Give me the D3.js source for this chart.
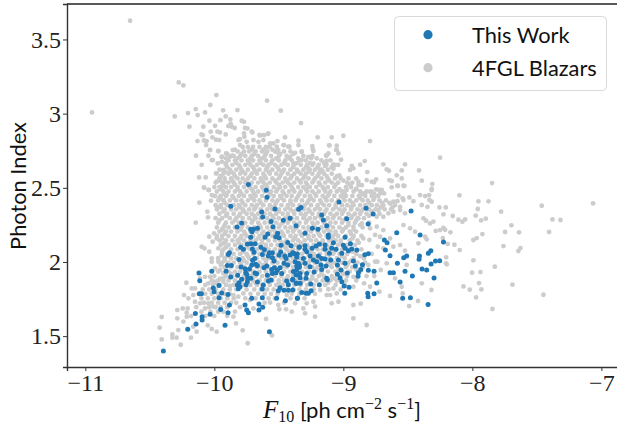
<!DOCTYPE html>
<html><head><meta charset="utf-8">
<script src="https://cdn.jsdelivr.net/npm/d3@7"></script>
<style>html,body{margin:0;padding:0;background:#fff;overflow:hidden}svg{display:block}</style>
</head><body><svg id="c" width="617" height="426"></svg>
<script>
const xTickValues=[-11,-10,-9,-8,-7];
const yTickValues=[1.5,2,2.5,3,3.5];
const legendLabels=["This Work","4FGL Blazars"];
const thisWork=[[-10.395,1.40],[-10.206,1.546],[-10.142,1.582],[-10.095,1.631],[-10.095,1.609],[-10.147,1.652],[-10.033,1.647],[-9.917,1.573],[-9.573,1.530],[-10.119,1.926],[-10.113,1.874],[-10.020,1.937],[-10.116,1.786],[-10.10,1.786],[-10.008,1.824],[-10.002,1.80],[-9.964,1.842],[-9.943,1.791],[-9.964,1.759],[-9.894,1.78],[-9.951,1.68],[-9.883,1.71],[-9.894,1.658],[-9.873,2.375],[-9.736,2.523],[-9.597,2.483],[-9.592,2.436],[-9.53,2.357],[-9.633,2.337],[-9.625,2.303],[-9.346,2.355],[-9.413,2.294],[-9.465,2.281],[-9.56,2.272],[-9.545,2.238],[-9.367,2.245],[-9.788,2.263],[-9.824,2.236],[-9.718,2.22],[-9.697,2.22],[-9.666,2.227],[-9.708,2.204],[-9.718,2.166],[-9.586,2.189],[-9.607,2.166],[-9.509,2.193],[-9.524,2.17],[-9.498,2.164],[-9.744,2.121],[-9.716,2.123],[-9.684,2.123],[-9.796,2.1],[-9.775,2.085],[-9.883,2.063],[-9.891,2.05],[-9.705,2.087],[-9.692,2.065],[-9.687,2.024],[-9.703,2.011],[-9.638,2.1],[-9.612,2.083],[-9.628,2.05],[-9.573,2.063],[-9.55,2.063],[-9.581,2.04],[-9.55,2.029],[-9.537,2.006],[-9.486,2.067],[-9.498,2.045],[-9.483,2.112],[-9.431,2.132],[-9.405,2.11],[-9.392,2.063],[-9.341,2.101],[-9.374,2.054],[-9.454,2.04],[-9.444,2.024],[-9.46,1.991],[-9.809,2.016],[-9.899,1.977],[-9.868,1.977],[-9.909,1.937],[-9.873,1.899],[-9.793,1.966],[-9.762,1.955],[-9.757,1.928],[-9.728,1.953],[-9.71,1.98],[-9.679,1.984],[-9.666,1.975],[-9.819,1.91],[-9.788,1.883],[-9.749,1.917],[-9.741,1.892],[-9.716,1.89],[-9.672,1.921],[-9.684,1.926],[-9.594,1.973],[-9.615,1.961],[-9.555,1.95],[-9.535,1.961],[-9.511,1.946],[-9.522,1.928],[-9.55,1.923],[-9.491,1.961],[-9.589,1.91],[-9.56,1.878],[-9.581,1.872],[-9.666,1.865],[-9.62,1.845],[-9.628,1.818],[-9.744,1.867],[-9.754,1.847],[-9.809,1.86],[-9.821,1.845],[-9.814,1.82],[-9.801,1.833],[-9.439,1.872],[-9.426,1.847],[-9.392,1.883],[-9.367,1.914],[-9.361,1.856],[-9.392,1.811],[-9.426,1.809],[-9.46,1.809],[-9.491,1.827],[-9.504,1.806],[-9.517,1.755],[-9.449,1.739],[-9.356,1.755],[-9.628,1.759],[-9.71,1.755],[-9.762,1.71],[-9.749,1.676],[-9.736,1.658],[-9.654,1.717],[-9.625,1.694],[-9.654,1.676],[-9.374,2.002],[-9.349,1.991],[-9.361,1.973],[-9.341,1.964],[-9.387,1.935],[-9.361,1.912],[-9.431,1.98],[-9.478,1.923],
[-9.033,2.404],[-8.824,2.362],[-8.769,2.323],[-8.475,2.344],[-8.974,2.292],[-8.808,2.256],[-9.328,2.368],[-9.168,2.317],[-9.155,2.283],[-9.129,2.245],[-9.24,2.227],[-9.196,2.22],[-9.297,2.193],[-9.116,2.182],[-9.116,2.166],[-8.987,2.166],[-8.586,2.197],[-8.405,2.182],[-8.224,2.135],[-8.682,2.148],[-8.661,2.13],[-8.674,2.081],[-8.638,2.042],[-8.581,1.991],[-8.509,2.04],[-8.532,2.029],[-8.41,2.04],[-8.413,2.018],[-8.322,2.076],[-8.341,2.058],[-8.32,1.986],[-8.286,2.006],[-8.253,2.009],[-8.39,1.953],[-8.354,1.946],[-8.638,1.928],[-8.612,1.928],[-8.522,1.937],[-8.465,1.905],[-8.297,1.892],[-8.56,1.865],[-8.54,1.755],[-8.48,1.759],[-8.343,1.714],[-8.762,1.786],[-8.811,1.789],[-8.808,1.766],[-8.741,1.858],[-8.762,1.937],[-8.806,1.944],[-8.852,1.982],[-8.907,1.973],[-8.922,2.007],[-8.865,1.95],[-8.883,1.928],[-8.886,1.903],[-8.806,2.056],[-8.834,2.049],[-8.896,2.081],[-8.935,2.087],[-8.961,2.076],[-8.945,2.123],[-9,2.112],[-8.987,2.092],[-9.012,2.058],[-9.056,2.085],[-9.077,2.13],[-9.09,2.092],[-9.142,2.114],[-9.142,2.085],[-9.186,2.121],[-9.211,2.108],[-9.242,2.092],[-9.297,2.11],[-9.343,2.099],[-9.297,2.085],[-9.284,2.069],[-9.387,2.058],[-9.356,2.054],[-9.413,2.047],[-9.108,2.058],[-9.098,2.013],[-9.142,2.02],[-9.193,2.04],[-9.168,2.024],[-9.258,2.04],[-9.232,2.013],[-9.206,2.002],[-9.038,2.013],[-9.046,1.98],[-8.987,1.991],[-9.018,1.946],[-8.969,1.926],[-9.046,1.917],[-9.025,1.892],[-9.012,1.867],[-8.994,1.838],[-8.956,1.829],[-8.989,1.789],[-9.173,1.98],[-9.134,1.973],[-9.168,1.95],[-9.258,1.968],[-9.297,1.991],[-9.31,2.024],[-9.361,2.031],[-9.341,1.98],[-9.361,1.946],[-9.335,1.923],[-9.284,1.923],[-9.227,1.932],[-9.129,1.89],[-9.124,1.88],[-9.335,1.894],[-9.289,1.89],[-9.392,1.878],[-9.366,1.856],[-9.335,1.856],[-9.253,1.851],[-9.186,1.847],[-9.322,1.795],[-9.289,1.789],[-9.271,1.789],[-9.25,1.806],[-9.356,1.755]];
const blazars=[[-10.653,3.626],[-10.948,3.008],[-10.276,3.21],[-10.24,3.19],[-9.984,3.125],[-9.591,3.087],[-9.485,3.02],[-9.328,2.936],[-10.307,2.981],[-10.204,3.004],[-10.129,2.99],[-10.144,3.031],[-10.072,3.008],[-10.031,3.058],[-9.932,3.022],[-9.821,3.024],[-10.193,2.912],[-10.085,2.912],[-10.038,2.952],[-9.994,2.918],[-9.953,2.956],[-9.912,2.981],[-9.876,2.961],[-9.873,2.93],[-9.891,2.916],[-9.865,2.912],[-9.842,2.903],[-9.788,2.952],[-9.77,2.945],[-10.028,2.878],[-9.976,2.878],[-9.956,2.873],[-9.912,2.86],[-10.1,2.86],[-10.09,2.855],[-9.762,2.903],[-9.744,2.9],[-9.77,2.867],[-9.705,2.873],[-9.767,2.844],[-9.646,2.853],[-9.615,2.855],[-9.584,2.864],[-10.015,2.84],[-9.987,2.824],[-9.961,2.822],[-10.131,2.815],[-10.08,2.819],[-10.059,2.815],[-10.064,2.788],[-9.803,2.828],[-10.033,2.754],[-9.969,2.747],[-10.142,2.716],[-10.098,2.655],[-10.046,2.716],[-10.012,2.687],[-9.943,2.709],[-9.865,2.716],[-9.909,2.732],[-9.857,2.754],[-9.974,2.664],[-9.912,2.664],[-10.118,2.57],[-10.067,2.57],[-9.987,2.597],[-10.08,2.5],[-9.961,2.563],[-9.917,2.608],[-9.452,2.84],[-9.511,2.815],[-9.199,2.84],[-9.09,2.84],[-9.348,2.817],[-9.348,2.788],[-9.418,2.777],[-9.46,2.788],[-9.24,2.781],[-9.237,2.761],[-9.108,2.786],[-9.051,2.784],[-9.504,2.754],[-9.542,2.799],[-9.374,2.736],[-9.323,2.743],[-9.271,2.709],[-9.206,2.698],[-9.129,2.72],[-9.051,2.754],[-9.413,2.709],[-9.452,2.664],[-9.323,2.687],[-9.232,2.664],[-9.129,2.682],[-9.064,2.653],[-9.18,2.62],[-9.271,2.631],[-9.387,2.664],
[-9.0,2.851],[-8.793,2.815],[-8.25,2.703],[-9.11,2.786],[-9.056,2.755],[-9.038,2.732],[-9.116,2.732],[-9.134,2.716],[-9.018,2.689],[-9.077,2.658],[-9.142,2.647],[-8.935,2.647],[-8.87,2.656],[-8.834,2.68],[-8.948,2.62],[-8.922,2.631],[-9.077,2.629],[-8.814,2.606],[-8.69,2.658],[-8.664,2.624],[-8.646,2.615],[-8.522,2.658],[-8.547,2.617],[-8.413,2.617],[-8.586,2.584],[-8.547,2.563],[-8.392,2.548],[-8.31,2.525],[-8.643,2.552],[-8.625,2.546],[-8.746,2.557],[-8.762,2.537],[-8.819,2.552],[-8.883,2.541],[-8.857,2.518],[-8.901,2.492],[-9.031,2.584],[-9.064,2.563],[-8.974,2.485],[-9,2.474],[-8.625,2.503],[-8.578,2.512],[-8.527,2.512],[-8.315,2.492],[-8.684,2.462],[-8.746,2.489],[-8.723,2.485],[-8.78,2.474],[-8.832,2.462],[-8.1,2.449],[-8.405,2.451],[-8.366,2.444],[-8.335,2.451],[-8.573,2.449],[-8.488,2.435],[-8.534,2.417],[-8.581,2.41],[-8.457,2.41],[-8.612,2.406],[-8.643,2.399],[-8.315,2.406],[-8.392,2.384],[-8.348,2.372],[-8.255,2.368],[-8.206,2.368],[-8.56,2.372],
[-7.847,2.532],[-7.953,2.409],[-7.875,2.409],[-7.958,2.357],[-7.462,2.379],[-7.064,2.395],[-7.777,2.339],[-8.224,2.321],[-8.152,2.31],[-7.974,2.312],[-8.108,2.285],[-8.077,2.271],[-8.056,2.287],[-7.932,2.28],[-7.896,2.292],[-7.379,2.287],[-7.317,2.283],[-7.697,2.247],[-8.224,2.229],[-8.211,2.217],[-8.17,2.2],[-8.25,2.215],[-7.746,2.202],[-7.638,2.2],[-7.405,2.202],[-7.922,2.188],[-7.966,2.161],[-7.992,2.148],[-8.229,2.161],[-8.191,2.121],[-8.139,2.116],[-8.098,2.08],[-7.759,2.107],[-7.627,2.094],[-7.643,2.074],[-8.203,2.031],[-7.992,2.011],[-8.198,1.984],[-7.826,1.968],[-8.002,1.928],[-7.937,1.932],[-7.948,1.858],[-7.93,1.815],[-8.069,1.835],[-8.02,1.813],[-7.689,1.847],[-7.449,1.779],[-7.971,1.761],[-7.844,1.683],
[-8.534,2.514],[-8.581,2.514],[-8.315,2.485],[-8.54,2.429],[-8.333,2.418],[-8.328,2.26],[-8.284,2.209],[-8.379,2.294],[-8.359,2.278],[-8.302,2.272],[-8.56,2.35],[-8.522,2.328],[-8.612,2.339],[-8.651,2.328],[-8.728,2.35],[-8.767,2.418],[-8.715,2.463],[-8.793,2.474],[-8.857,2.463],[-8.883,2.519],[-8.78,2.541],[-8.702,2.485],[-8.638,2.395],[-8.69,2.305],[-8.741,2.305],[-8.883,2.294],[-8.857,2.26],[-8.922,2.238],[-8.793,2.227],[-8.741,2.238],[-8.69,2.215],[-8.534,2.249],[-8.483,2.227],[-8.444,2.204],[-8.366,2.17],[-8.418,2.126],[-8.522,2.076],[-8.638,2.159],[-8.715,2.17],[-8.754,2.182],[-8.845,2.159],[-8.798,2.148],[-8.733,2.103],[-8.69,2.092],[-8.612,2.103],[-8.56,2.114],[-8.354,2.153],[-8.204,1.991],[-8.509,1.98],[-8.71,1.946],[-8.664,1.991],[-8.754,2.002],[-8.736,2.002],[-8.806,1.98],[-8.599,1.89],[-8.547,1.833],[-8.54,1.788],[-8.638,1.771],[-8.72,1.8],[-8.793,1.833],[-8.49,1.703],[-8.421,1.737],[-8.317,1.811],[-8.392,1.856],[-8.839,1.856],[-8.922,1.9],[-8.865,1.719],[-8.922,1.71],[-8.819,1.575],[-8.922,1.62],[-9.038,1.732],[-9.09,1.721],[-9.129,1.777],[-9.219,1.699],[-9.219,1.631],[-9.31,1.687],[-9.297,1.654],[-9.374,1.721],[-9.4,1.665],[-9.232,1.732],[-9.284,1.721],[-9.077,1.822],[-9.103,1.777],[-9.051,1.788],[-8.922,1.833],[-9.116,1.816],[-9.18,1.811],
[-10.408,1.629],[-10.424,1.557],[-10.408,1.478],[-10.325,1.512],[-10.325,1.49],[-10.292,1.49],[-10.261,1.442],[-10.181,1.49],[-10.287,1.62],[-10.279,1.541],[-10.287,1.676],[-10.245,1.687],[-10.207,1.687],[-10.24,1.598],[-10.214,1.631],[-10.214,1.658],[-10.137,1.53],[-10.163,1.564],[-10.051,1.573],[-10.02,1.548],[-9.982,1.53],[-9.852,1.631],[-9.832,1.586],[-9.78,1.539],[-9.741,1.452],[-9.553,1.505],[-9.599,1.616],[-9.496,1.681],[-9.444,1.681],[-10.217,1.86],[-10.15,1.822],[-10.175,1.822],[-10.235,1.777],[-10.201,1.755],[-10.163,1.777],[-10.15,1.732],[-10.111,1.721],[-10.072,1.687],[-10.046,1.721],[-10.008,1.699],[-10.111,1.89],[-10.072,1.9],[-10.046,1.856],[-10.033,1.9],[-9.995,1.867],[-9.93,1.867],[-9.878,1.838],[-9.852,1.777],[-9.814,1.766],[-9.775,1.788],[-9.723,1.743],[-9.697,1.687],[-9.568,1.726],[-9.504,1.71],[-9.439,1.777],[-9.387,1.811],[-10.144,2.265],[-10.116,2.4],[-10.08,2.503],[-10.041,2.485],[-10.026,2.413],[-10.054,2.339],[-10.049,2.301],[-10.039,2.17],[-10.013,2.137],[-10.098,2.103],[-10.077,2.092],[-10.039,2.069],[-10.02,2.024],[-10.02,2.002],[-9.969,2.002],[-9.943,2.047],[-10.002,2.193],[-9.982,2.159],[-9.969,2.092],[-9.93,2.126],[-9.956,1.946],[-9.995,1.957],[-9.93,1.923],[-9.956,1.887],
[-10.033,2.755],[-9.968,2.748],[-10.02,2.687],[-9.942,2.71],[-9.878,2.71],[-9.942,2.676],[-9.813,2.822],[-9.80,2.788],[-9.749,2.81],[-9.71,2.878],[-9.65,2.856],[-9.581,2.867],[-9.697,2.822],[-9.658,2.81],[-9.62,2.822],[-9.568,2.799],[-9.516,2.777],[-9.464,2.788],[-9.426,2.777],[-9.232,2.748],[-9.322,2.743],[-9.516,2.743],[-9.981,2.597],[-9.93,2.62],[-9.955,2.563],[-9.981,2.541],[-9.942,2.507],[-9.917,2.541],[-10.046,2.485],[-10.02,2.451],[-9.994,2.444],[-9.955,2.44],[-9.904,2.451],[-9.981,2.372],[-9.93,2.417]];
const blazarBands=[
[2.775,[-9.78,-9.74,-9.70,-9.65,-9.60,-9.57]],
[2.745,[-9.82,-9.77,-9.73,-9.68,-9.63,-9.59,-9.53,-9.46,-9.41]],
[2.715,[-9.85,-9.80,-9.76,-9.71,-9.66,-9.61,-9.56,-9.50,-9.44,-9.31,-9.24]],
[2.685,[-9.89,-9.84,-9.79,-9.74,-9.70,-9.65,-9.60,-9.55,-9.50,-9.45,-9.40,-9.34,-9.29,-9.17,-9.10]],
[2.655,[-9.91,-9.86,-9.81,-9.76,-9.72,-9.67,-9.62,-9.58,-9.53,-9.48,-9.43,-9.38,-9.33,-9.28,-9.24,-9.19,-9.13,-9.04]],
[2.622,[-9.96,-9.88,-9.83,-9.79,-9.74,-9.69,-9.65,-9.60,-9.55,-9.50,-9.46,-9.41,-9.36,-9.31,-9.26,-9.22,-9.17,-9.12]],
[2.595,[-9.93,-9.89,-9.85,-9.80,-9.76,-9.71,-9.67,-9.62,-9.57,-9.52,-9.48,-9.43,-9.38,-9.33,-9.29,-9.24,-9.19,-9.15,-9.09]],
[2.563,[-9.92,-9.87,-9.82,-9.78,-9.74,-9.69,-9.64,-9.60,-9.55,-9.50,-9.45,-9.41,-9.36,-9.31,-9.27,-9.22,-9.17,-9.12,-9.02,-8.96,-8.90]],
[2.535,[-9.99,-9.94,-9.89,-9.85,-9.80,-9.76,-9.71,-9.66,-9.62,-9.57,-9.52,-9.47,-9.43,-9.38,-9.33,-9.29,-9.24,-9.19,-9.14,-9.09,-9.04,-8.97,-8.93]],
[2.505,[-10.00,-9.96,-9.91,-9.87,-9.82,-9.77,-9.73,-9.68,-9.63,-9.59,-9.54,-9.49,-9.45,-9.40,-9.35,-9.31,-9.26,-9.21,-9.16,-9.12,-9.07,-8.98,-8.94]],
[2.475,[-9.98,-9.93,-9.89,-9.84,-9.80,-9.75,-9.70,-9.66,-9.61,-9.56,-9.52,-9.47,-9.42,-9.38,-9.33,-9.28,-9.24,-9.19,-9.14,-9.10,-9.05,-9.01,-8.92,-8.87,-8.82]],
[2.445,[-10.00,-9.95,-9.91,-9.86,-9.81,-9.77,-9.72,-9.68,-9.63,-9.58,-9.54,-9.49,-9.44,-9.40,-9.35,-9.30,-9.26,-9.21,-9.16,-9.12,-9.07,-9.02,-8.98,-8.93,-8.88,-8.83,-8.78,-8.73]],
[2.415,[-9.97,-9.93,-9.88,-9.83,-9.79,-9.74,-9.69,-9.65,-9.60,-9.55,-9.51,-9.46,-9.41,-9.37,-9.32,-9.27,-9.23,-9.18,-9.13,-9.09,-9.04,-8.99,-8.95,-8.90,-8.85,-8.81,-8.72,-8.67]],
[2.383,[-9.99,-9.95,-9.90,-9.85,-9.81,-9.76,-9.71,-9.67,-9.62,-9.57,-9.53,-9.48,-9.43,-9.39,-9.34,-9.30,-9.25,-9.20,-9.15,-9.11,-9.06,-9.01,-8.97,-8.92,-8.87,-8.83,-8.78,-8.74,-8.69,-8.60]],
[2.355,[-9.98,-9.92,-9.87,-9.83,-9.78,-9.73,-9.69,-9.64,-9.59,-9.55,-9.50,-9.45,-9.41,-9.36,-9.31,-9.27,-9.22,-9.18,-9.13,-9.08,-9.03,-8.99,-8.94,-8.89,-8.85,-8.80,-8.75,-8.68,-8.63]],
[2.325,[-9.96,-9.90,-9.85,-9.80,-9.75,-9.71,-9.66,-9.61,-9.57,-9.52,-9.47,-9.43,-9.38,-9.33,-9.29,-9.24,-9.19,-9.15,-9.10,-9.05,-9.01,-8.96,-8.91,-8.87,-8.82,-8.72]],
[2.295,[-9.99,-9.94,-9.88,-9.83,-9.78,-9.73,-9.68,-9.64,-9.59,-9.54,-9.50,-9.45,-9.40,-9.36,-9.31,-9.26,-9.22,-9.17,-9.12,-9.08,-9.03,-8.98,-8.94,-8.89,-8.84]],
[2.265,[-9.97,-9.91,-9.86,-9.81,-9.76,-9.71,-9.66,-9.61,-9.57,-9.52,-9.47,-9.43,-9.38,-9.34,-9.29,-9.24,-9.20,-9.15,-9.10,-9.06,-9.01,-8.96,-8.91,-8.80]],
[2.233,[-9.98,-9.93,-9.89,-9.84,-9.79,-9.74,-9.69,-9.64,-9.59,-9.55,-9.50,-9.45,-9.41,-9.36,-9.31,-9.27,-9.22,-9.17,-9.13,-9.08,-9.03,-8.98,-8.85]],
[2.205,[-9.96,-9.91,-9.87,-9.82,-9.77,-9.72,-9.67,-9.62,-9.57,-9.53,-9.48,-9.43,-9.39,-9.34,-9.29,-9.25,-9.20,-9.15,-9.10,-9.06,-9.01,-8.95,-8.90]],
[2.175,[-9.98,-9.94,-9.89,-9.84,-9.79,-9.75,-9.70,-9.65,-9.60,-9.55,-9.51,-9.46,-9.41,-9.37,-9.32,-9.27,-9.23,-9.18,-9.13,-9.08,-9.04,-8.98,-8.92,-8.86]],
[2.145,[-9.96,-9.91,-9.86,-9.82,-9.77,-9.72,-9.68,-9.63,-9.58,-9.53,-9.49,-9.44,-9.39,-9.35,-9.30,-9.25,-9.21,-9.16,-9.11,-9.06,-9.02,-8.95,-8.89]],
[2.115,[-9.95,-9.89,-9.84,-9.79,-9.75,-9.70,-9.65,-9.60,-9.56,-9.51,-9.46,-9.42,-9.37,-9.32,-9.28,-9.23,-9.18,-9.13,-9.09,-9.04,-8.97,-8.91]],
[2.085,[-9.93,-9.87,-9.82,-9.77,-9.72,-9.67,-9.63,-9.58,-9.53,-9.49,-9.44,-9.39,-9.35,-9.30,-9.25,-9.20,-9.16,-9.11,-9.06,-9.01,-8.94,-8.86]],
[2.055,[-9.90,-9.85,-9.80,-9.75,-9.70,-9.65,-9.60,-9.55,-9.51,-9.46,-9.41,-9.37,-9.32,-9.27,-9.23,-9.18,-9.13,-9.08,-9.03,-8.97,-8.90,-8.78]],
[2.025,[-9.97,-9.92,-9.87,-9.83,-9.78,-9.73,-9.67,-9.62,-9.58,-9.53,-9.48,-9.44,-9.39,-9.34,-9.30,-9.25,-9.20,-9.15,-9.11,-9.05,-8.99,-8.92,-8.84]],
[1.995,[-9.94,-9.89,-9.85,-9.80,-9.75,-9.70,-9.65,-9.60,-9.55,-9.51,-9.46,-9.41,-9.37,-9.32,-9.27,-9.22,-9.18,-9.12,-9.07,-9.01,-8.96,-8.89,-8.83]],
[1.965,[-9.92,-9.87,-9.82,-9.77,-9.72,-9.67,-9.63,-9.58,-9.53,-9.48,-9.44,-9.39,-9.34,-9.29,-9.24,-9.20,-9.15,-9.09,-9.04,-8.98,-8.93,-8.85]],
[1.935,[-9.97,-9.89,-9.84,-9.80,-9.75,-9.70,-9.65,-9.60,-9.56,-9.51,-9.46,-9.41,-9.36,-9.32,-9.27,-9.22,-9.17,-9.12,-9.06,-9.01,-8.95,-8.87]],
[1.905,[-10.00,-9.91,-9.86,-9.82,-9.77,-9.72,-9.68,-9.63,-9.58,-9.53,-9.48,-9.43,-9.39,-9.34,-9.29,-9.24,-9.19,-9.15,-9.09,-9.03,-8.97,-8.82,-8.76]],
[1.875,[-10.02,-9.97,-9.89,-9.84,-9.79,-9.74,-9.70,-9.65,-9.60,-9.55,-9.50,-9.46,-9.41,-9.36,-9.31,-9.26,-9.21,-9.16,-9.10,-9.05,-8.98,-8.90]],
[1.845,[-10.07,-10.01,-9.96,-9.91,-9.85,-9.77,-9.72,-9.67,-9.63,-9.57,-9.52,-9.47,-9.43,-9.38,-9.33,-9.28,-9.23,-9.14,-9.06,-8.99]],
[1.815,[-10.09,-10.04,-9.99,-9.93,-9.88,-9.83,-9.75,-9.69,-9.64,-9.59,-9.54,-9.49,-9.44,-9.39,-9.34,-9.29,-9.23,-9.02]],
[1.785,[-10.12,-10.07,-10.02,-9.97,-9.92,-9.88,-9.72,-9.66,-9.61,-9.56,-9.51,-9.40,-9.34,-9.22]],
[1.755,[-10.10,-10.05,-10.00,-9.95,-9.90,-9.85,-9.76,-9.68,-9.58,-9.53,-9.41,-9.30]],
[1.725,[-10.08,-10.02,-9.97,-9.92,-9.87,-9.83,-9.61,-9.46]],
[1.695,[-10.14,-10.04,-9.99,-9.95,-9.90,-9.80]],
[1.665,[-10.10,-10.03,-9.97,-9.93,-9.84]],
[1.635,[-10.18,-10.07,-10.00,-9.90]]
];
const blazarBandsMid=[
[2.757,[-9.84,-9.71,-9.62,-9.55]],
[2.728,[-9.90,-9.79,-9.69,-9.60,-9.49,-9.39]],
[2.699,[-9.91,-9.82,-9.72,-9.63,-9.52,-9.42,-9.35,-9.25]],
[2.667,[-9.83,-9.73,-9.64,-9.56,-9.46,-9.36,-9.26,-9.15]],
[2.639,[-9.90,-9.80,-9.70,-9.59,-9.51,-9.39,-9.29,-9.20,-9.09]],
[2.609,[-9.87,-9.78,-9.68,-9.58,-9.47,-9.35,-9.27,-9.16]],
[2.579,[-9.95,-9.84,-9.72,-9.61,-9.49,-9.40,-9.30,-9.20,-9.13,-9.05]],
[2.549,[-9.96,-9.86,-9.75,-9.63,-9.53,-9.44,-9.34,-9.23,-9.11,-9.00]],
[2.521,[-9.93,-9.84,-9.72,-9.60,-9.50,-9.41,-9.28,-9.18,-9.06,-8.95]],
[2.491,[-9.95,-9.82,-9.71,-9.62,-9.51,-9.39,-9.29,-9.15,-9.03,-8.90]],
[2.459,[-9.92,-9.79,-9.69,-9.57,-9.46,-9.34,-9.22,-9.11,-8.99,-8.85,-8.76]],
[2.431,[-9.96,-9.85,-9.71,-9.59,-9.48,-9.36,-9.25,-9.14,-9.00,-8.87,-8.76]],
[2.399,[-9.92,-9.78,-9.64,-9.52,-9.41,-9.28,-9.17,-9.05,-8.93,-8.80,-8.70]],
[2.369,[-9.95,-9.80,-9.68,-9.56,-9.43,-9.31,-9.20,-9.06,-8.94,-8.82,-8.71,-8.62]],
[2.341,[-9.93,-9.77,-9.63,-9.50,-9.39,-9.26,-9.14,-9.00,-8.86,-8.78]],
[2.311,[-9.91,-9.81,-9.69,-9.55,-9.43,-9.30,-9.19,-9.07,-8.93,-8.80]],
[2.281,[-9.96,-9.84,-9.70,-9.56,-9.42,-9.28,-9.14,-9.00,-8.90]],
[2.249,[-9.92,-9.78,-9.65,-9.49,-9.35,-9.23,-9.11,-8.96,-8.87]],
[2.219,[-9.94,-9.80,-9.66,-9.54,-9.38,-9.26,-9.12,-9.00,-8.92]],
[2.189,[-9.92,-9.76,-9.63,-9.47,-9.33,-9.19,-9.06,-8.94]],
[2.159,[-9.94,-9.80,-9.66,-9.52,-9.38,-9.27,-9.09,-8.93]],
[2.129,[-9.92,-9.81,-9.63,-9.46,-9.33,-9.16,-9.02,-8.88]],
[2.099,[-9.91,-9.74,-9.60,-9.45,-9.27,-9.12,-8.98]],
[2.069,[-9.94,-9.78,-9.62,-9.42,-9.25,-9.07,-8.93]],
[2.039,[-9.90,-9.74,-9.56,-9.39,-9.22,-9.01,-8.87]],
[2.009,[-9.92,-9.77,-9.60,-9.43,-9.26,-9.09,-8.94]],
[1.979,[-9.95,-9.79,-9.62,-9.46,-9.28,-9.10,-8.97]],
[1.949,[-9.91,-9.73,-9.55,-9.38,-9.21,-9.03,-8.90]],
[1.919,[-9.87,-9.70,-9.53,-9.35,-9.17,-9.00]],
[1.889,[-9.93,-9.76,-9.59,-9.44,-9.24,-9.07]],
[1.859,[-9.99,-9.80,-9.68,-9.50,-9.33,-9.12]]
];
const W=617,H=426,L=67,R=618,T=4,B=367;
const x=d3.scaleLinear().domain([-11.142,-6.871]).range([L,R]);
const y=d3.scaleLinear().domain([1.292,3.739]).range([B,T]);
const svg=d3.select("#c");
const grayPts=blazars.concat(blazarBands.concat(blazarBandsMid).flatMap(([v,fs])=>fs.map(f=>[f,v])));
const plot=svg.append("g");
plot.selectAll("circle.g").data(grayPts).join("circle").attr("class","g")
 .attr("cx",d=>x(d[0])).attr("cy",d=>y(d[1])).attr("r",2.4).attr("fill","#cccccc");
plot.selectAll("circle.b").data(thisWork).join("circle").attr("class","b")
 .attr("cx",d=>x(d[0])).attr("cy",d=>y(d[1])).attr("r",2.5).attr("fill","#1f77b4");
const tickFont="'Liberation Serif',serif";
const sans="Lato,'Open Sans',sans-serif";
const xAxis=svg.append("g").attr("transform",`translate(0,${B})`)
 .call(d3.axisBottom(x).tickValues(xTickValues).tickSize(4).tickPadding(3).tickFormat(d=>"\u2212"+Math.abs(d)));
const yAxis=svg.append("g").attr("transform",`translate(${L},0)`)
 .call(d3.axisLeft(y).tickValues(yTickValues).tickSize(4).tickPadding(2).tickFormat(d=>String(d)));
[xAxis,yAxis].forEach(a=>{a.selectAll("text").attr("font-family",tickFont).attr("font-size",24).attr("fill","#222");
 a.selectAll("line").attr("stroke","#333").attr("stroke-width",1);
 a.select(".domain").attr("stroke","#333").attr("stroke-width",1.4);});
svg.append("line").attr("x1",L).attr("x2",W).attr("y1",T).attr("y2",T).attr("stroke","#222").attr("stroke-width",1.4);
const lg=svg.append("g");
lg.append("rect").attr("x",394.5).attr("y",16.5).attr("width",212).attr("height",74).attr("rx",4)
 .attr("fill","#fff").attr("fill-opacity",.8).attr("stroke","#d9d9d9").attr("stroke-width",1);
const cols=["#1f77b4","#cccccc"],ly=[34.7,67.7];
legendLabels.forEach((t,i)=>{
 lg.append("circle").attr("cx",428).attr("cy",ly[i]).attr("r",4.6).attr("fill",cols[i]);
 lg.append("text").attr("x",472).attr("y",ly[i]+8).attr("font-family",sans).attr("font-size",21.8).attr("fill","#111").text(t);
});
svg.append("text").attr("transform","translate(26,186) rotate(-90)").attr("text-anchor","middle")
 .attr("font-family",sans).attr("font-size",21.8).attr("fill","#111").text("Photon Index");
const xl=svg.append("text").attr("x",342).attr("y",418).attr("text-anchor","middle").attr("font-family",sans).attr("font-size",22).attr("fill","#111");
xl.append("tspan").attr("font-family",tickFont).attr("font-style","italic").attr("font-size",25).text("F");
xl.append("tspan").attr("font-family",tickFont).attr("font-size",16).attr("dy",4).text("10");
xl.append("tspan").attr("dy",-4).text(" [ph cm");
xl.append("tspan").attr("font-family",tickFont).attr("font-size",16).attr("dy",-9).text("\u22122");
xl.append("tspan").attr("dy",9).text(" s");
xl.append("tspan").attr("font-family",tickFont).attr("font-size",16).attr("dy",-9).text("\u22121");
xl.append("tspan").attr("dy",9).text("]");
</script></body></html>
